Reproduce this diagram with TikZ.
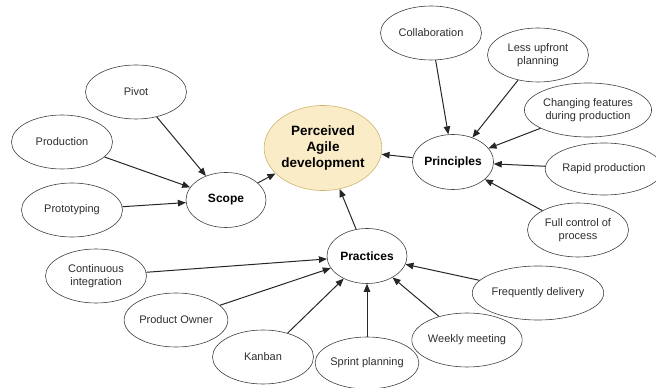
\documentclass[tikz,border=0pt]{standalone}
\usepackage{fontspec}
\setmainfont{Liberation Sans}
\usetikzlibrary{arrows.meta}
\usetikzlibrary{shapes.geometric}
\definecolor{coreFill}{RGB}{250,236,198}
\definecolor{coreLine}{RGB}{205,180,110}
\definecolor{leafText}{RGB}{45,45,45}

\begin{document}
\begin{tikzpicture}
  [x=1pt,y=1pt,
   every node/.style={ellipse,draw=black!75,line width=0.6pt,inner sep=0pt,
     align=center,minimum width=101pt,minimum height=54pt,
     text=leafText,font=\fontsize{11}{13}\selectfont},
   hub/.style={minimum width=80pt,minimum height=55pt,text=black,
     font=\fontsize{12}{14}\selectfont\bfseries},
   core/.style={fill=coreFill,draw=coreLine,minimum width=101pt,minimum height=85pt,
     text=black,font=\fontsize{13.5}{16}\selectfont\bfseries},
   link/.style={-{Triangle[length=8pt,width=6.5pt]},line width=1pt,black!85}]
  \useasboundingbox (0,0) rectangle (656,388);

  % centre and the three groups
  \node[core] (c)  at (323,240) {Perceived\\Agile\\development};
  \node[hub]  (sc) at (226,188) {Scope};
  \node[hub]  (pr) at (453,226) {Principles};
  \node[hub]  (pa) at (367,132) {Practices};

  % scope
  \node (s1) at (136,296) {Pivot};
  \node (s2) at (62,246)  {Production};
  \node (s3) at (72,178)  {Prototyping};

  % principles
  \node (r1) at (431,355) {Collaboration};
  \node (r2) at (538,333) {Less upfront\\planning};
  \node (r3) at (588,278) {Changing features\\during production};
  \node[minimum width=98pt,minimum height=52pt] (r4) at (604,219) {Rapid production};
  \node (r5) at (578,158) {Full control of\\process};

  % practices
  \node (q1) at (96,112)  {Continuous\\integration};
  \node (q2) at (176,68)  {Product Owner};
  \node (q3) at (263,31)  {Kanban};
  \node[minimum height=52pt] (q4) at (367,25) {Sprint planning};
  \node (q5) at (467,48)  {Weekly meeting};
  \node (q6) at (538,95)  {Frequently delivery};

  \foreach \from/\to in {s1/sc,s2/sc,s3/sc,sc/c,pr/c,pa/c,
      r1/pr,r2/pr,r3/pr,r4/pr,r5/pr,
      q1/pa,q2/pa,q3/pa,q4/pa,q5/pa,q6/pa}
    \draw[link] (\from) -- (\to);
\end{tikzpicture}
\end{document}
